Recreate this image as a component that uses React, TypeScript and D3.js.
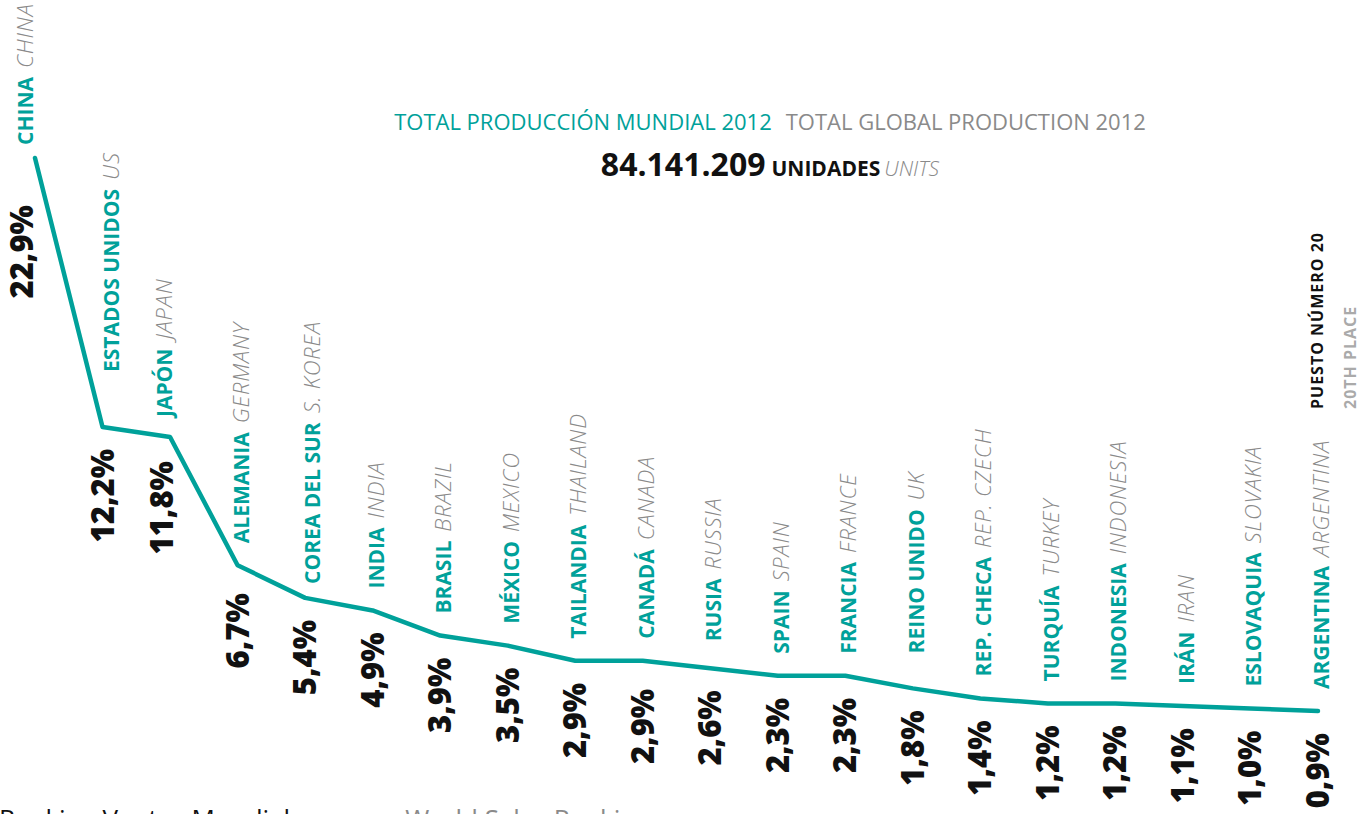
import React from "react";
import * as d3 from "d3";

const namesEs = [
  "CHINA", "ESTADOS UNIDOS", "JAPÓN", "ALEMANIA", "COREA DEL SUR", "INDIA", "BRASIL",
  "MÉXICO", "TAILANDIA", "CANADÁ", "RUSIA", "SPAIN", "FRANCIA", "REINO UNIDO",
  "REP. CHECA", "TURQUÍA", "INDONESIA", "IRÁN", "ESLOVAQUIA", "ARGENTINA",
];
const namesEn = [
  "CHINA", "US", "JAPAN", "GERMANY", "S. KOREA", "INDIA", "BRAZIL", "MEXICO",
  "THAILAND", "CANADA", "RUSSIA", "SPAIN", "FRANCE", "UK", "REP. CZECH", "TURKEY",
  "INDONESIA", "IRAN", "SLOVAKIA", "ARGENTINA",
];
const shares = [
  22.9, 12.2, 11.8, 6.7, 5.4, 4.9, 3.9, 3.5, 2.9, 2.9, 2.6, 2.3, 2.3, 1.8, 1.4, 1.2,
  1.2, 1.1, 1.0, 0.9,
];

const titleEs = "TOTAL PRODUCCIÓN MUNDIAL 2012";
const titleEn = "TOTAL GLOBAL PRODUCTION 2012";
const totalUnits = "84.141.209";
const unitsEs = "UNIDADES";
const unitsEn = "UNITS";
const rankEs = "PUESTO NÚMERO 20";
const rankEn = "20TH PLACE";
const footerEs = "Ranking Ventas Mundiales";
const footerEn = "World Sales Ranking";

const W = 1369;
const H = 814;
const TEAL = "#00a19a";
const GRAY = "#8a8a8a";
const FONT = "'Open Sans', 'Noto Sans', sans-serif";

// hand placed tweaks of the original layout
const pctNudge: Record<number, [number, number]> = { 0: [-13, 25], 2: [-8, 2], 3: [0, 6], 9: [0, 6] };
const nameNudge: Record<number, [number, number]> = {
  0: [-13, 9], 1: [5, -33], 2: [-9, 2], 4: [4, 8], 10: [0, -5], 13: [0, -13],
};

export default function App() {
  const idx = d3.range(shares.length);
  const x = d3.scalePoint<number>().domain(idx).range([35, 1318]);
  const y = d3
    .scaleLinear()
    .domain([d3.min(shares) as number, d3.max(shares) as number])
    .range([711, 158]);

  const line = d3
    .line<number>()
    .x((d, i) => x(i) as number)
    .y((d) => y(d));

  const fmt = (v: number) => d3.format(".1f")(v).replace(".", ",") + "%";

  return (
    <div style={{ position: "absolute", left: 0, top: 0 }}>
      <svg width={W} height={H} style={{ display: "block", overflow: "hidden", background: "#fff" }} fontFamily={FONT}>
        <text x={770} y={130} textAnchor="middle" fontSize={22}>
          <tspan fill={TEAL}>{titleEs}</tspan>
          <tspan fill={GRAY} dx={14}>{titleEn}</tspan>
        </text>
        <text x={770} y={176} textAnchor="middle">
          <tspan fontSize={32} fontWeight={700} fill="#111">{totalUnits}</tspan>
          <tspan fontSize={21} fontWeight={700} fill="#111" dx={6}>{unitsEs}</tspan>
          <tspan fontSize={21} fontWeight={300} fontStyle="italic" fill={GRAY} dx={4}>{unitsEn}</tspan>
        </text>

        <path d={line(shares) || ""} fill="none" stroke={TEAL} strokeWidth={4.5} strokeLinejoin="round" strokeLinecap="round" />

        {shares.map((v, i) => {
          const px = x(i) as number;
          const py = y(v);
          const [pdx, pdy] = pctNudge[i] || [0, 0];
          const [ndx, ndy] = nameNudge[i] || [0, 0];
          return (
            <g key={i}>
              <text
                transform={`translate(${px + 11 + pdx},${py + 22 + pdy}) rotate(-90)`}
                textAnchor="end"
                fontSize={31}
                fontWeight={800}
                fill="#111"
              >
                {fmt(v)}
              </text>
              <text
                transform={`translate(${px + 11 + ndx},${py - 22 + ndy}) rotate(-90)`}
                textAnchor="start"
                fontSize={21}
              >
                <tspan fontWeight={700} fill={TEAL}>{namesEs[i]}</tspan>
                <tspan dx={9} fontSize={22} letterSpacing={0.8} fontWeight={300} fontStyle="italic" fill={GRAY}>
                  {namesEn[i]}
                </tspan>
              </text>
            </g>
          );
        })}

        <text transform="translate(1323,409) rotate(-90)" fontSize={16} fontWeight={700} letterSpacing={1} fill="#111">
          {rankEs}
        </text>
        <text transform="translate(1356,409) rotate(-90)" fontSize={16} fontWeight={700} letterSpacing={1} fill="#aaa">
          {rankEn}
        </text>

        <text x={-1} y={828} fontSize={26}>
          <tspan fill="#111">{footerEs}</tspan>
          <tspan dx={88} fill={GRAY}>{footerEn}</tspan>
        </text>
      </svg>
    </div>
  );
}
